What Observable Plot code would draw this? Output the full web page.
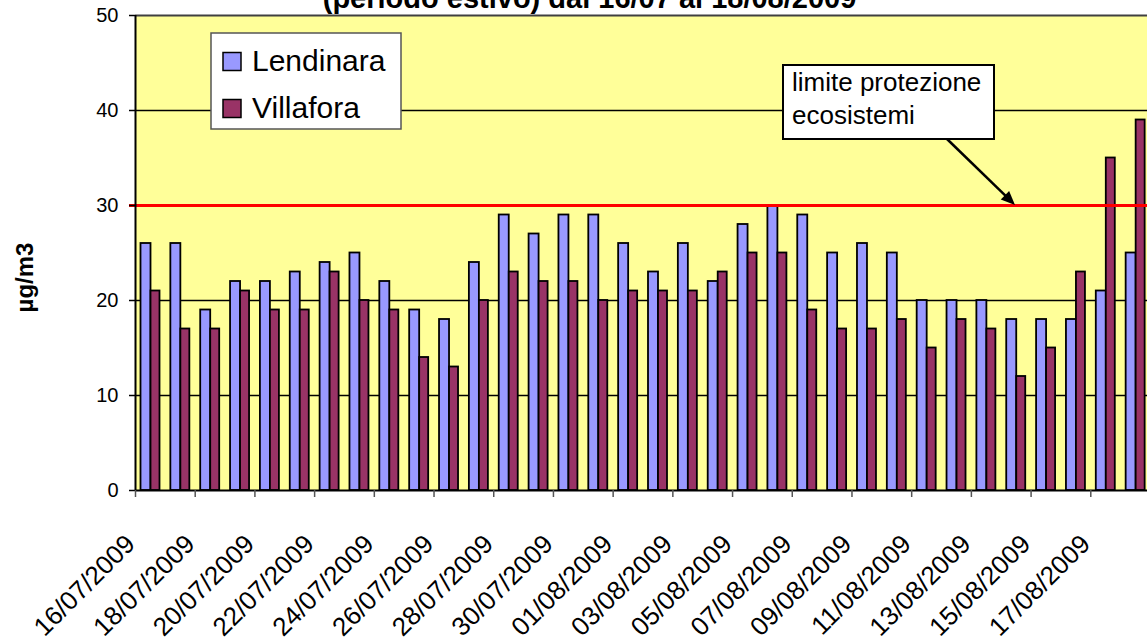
<!DOCTYPE html>
<html><head><meta charset="utf-8">
<script src="https://cdn.jsdelivr.net/npm/d3@7"></script>
<script src="https://cdn.jsdelivr.net/npm/@observablehq/plot@0.6"></script>
<style>
html,body{margin:0;padding:0;background:#fff;overflow:hidden;}
</style></head><body><div id="chart"></div>
<script>
const dates = ["16/07/2009","17/07/2009","18/07/2009","19/07/2009","20/07/2009","21/07/2009","22/07/2009","23/07/2009","24/07/2009","25/07/2009","26/07/2009","27/07/2009","28/07/2009","29/07/2009","30/07/2009","31/07/2009","01/08/2009","02/08/2009","03/08/2009","04/08/2009","05/08/2009","06/08/2009","07/08/2009","08/08/2009","09/08/2009","10/08/2009","11/08/2009","12/08/2009","13/08/2009","14/08/2009","15/08/2009","16/08/2009","17/08/2009","18/08/2009"];
const lendinara = [26,26,19,22,22,23,24,25,22,19,18,24,29,27,29,29,26,23,26,22,28,30,29,25,26,25,20,20,20,18,18,18,21,25];
const villafora = [21,17,17,21,19,19,23,20,19,14,13,20,23,22,22,20,21,21,21,23,25,25,19,17,17,18,15,18,17,12,15,23,35,39];
const tickLabels = ["16/07/2009","18/07/2009","20/07/2009","22/07/2009","24/07/2009","26/07/2009","28/07/2009","30/07/2009","01/08/2009","03/08/2009","05/08/2009","07/08/2009","09/08/2009","11/08/2009","13/08/2009","15/08/2009","17/08/2009"];
const yTicks = [0,10,20,30,40,50];
const gridValues = [10,20,40];
const limitValue = [30];
const series = ["Lendinara","Villafora"];
const colors = ["#9999FF","#993366"];
const titleLines = ["(periodo estivo) dal 16/07 al 18/08/2009"];
const yTitle = ["µg/m3"];
const noteLines = ["limite protezione","ecosistemi"];

const W = 1150, H = 643, ML = 135, MR = 0, MT = 15, MB = 153;
const bw = (W - ML - MR) / dates.length;
const table = dates.map((d,i)=>({date:d, Lendinara: lendinara[i], Villafora: villafora[i]}));
const FONT = "'Liberation Sans', Arial, sans-serif";

function overlay(index, scales, values, dims) {
  const g = d3.create("svg:g").attr("font-family", FONT).attr("text-anchor", "start");
  // legend
  const lg = g.append("g");
  lg.append("rect").attr("x",211).attr("y",33).attr("width",190).attr("height",96)
    .attr("fill","white").attr("stroke","#555").attr("stroke-width",1.5);
  series.forEach((s,i) => {
    const cy = 61.5 + i*47;
    lg.append("rect").attr("x",223).attr("y",cy-9).attr("width",18).attr("height",18)
      .attr("fill",colors[i]).attr("stroke","black").attr("stroke-width",1.5);
    lg.append("text").attr("x",252).attr("y",cy+9.5).attr("font-size",30).attr("fill","black")
      .attr("text-anchor","start").text(s);
  });
  // annotation
  const ag = g.append("g");
  const tipY = scales.y ? scales.y(limitValue[0]) : 205;
  const x0 = 947, y0 = 139, x1 = 1015, y1 = tipY;
  const dx = x1-x0, dy = y1-y0, len = Math.hypot(dx,dy), ux = dx/len, uy = dy/len;
  const hl = 14, hw = 6;
  ag.append("line").attr("x1",x0).attr("y1",y0).attr("x2",x1-ux*hl*0.8).attr("y2",y1-uy*hl*0.8)
    .attr("stroke","black").attr("stroke-width",2.5);
  const bx = x1-ux*hl, by = y1-uy*hl;
  ag.append("polygon").attr("points",[[x1,y1],[bx-uy*hw,by+ux*hw],[bx+uy*hw,by-ux*hw]].map(p=>p.join(",")).join(" "))
    .attr("fill","black");
  ag.append("rect").attr("x",783).attr("y",65).attr("width",211).attr("height",74)
    .attr("fill","white").attr("stroke","black").attr("stroke-width",2);
  noteLines.forEach((t,i)=>{
    ag.append("text").attr("x",792).attr("y",90.7 + i*33.3).attr("font-size",26).attr("fill","black")
      .attr("text-anchor","start").text(t);
  });
  return g.node();
}

const chart = Plot.plot({
  width: W, height: H,
  marginLeft: ML, marginRight: MR, marginTop: MT, marginBottom: MB,
  style: {fontFamily: FONT, maxWidth: "none", background: "white", color: "black"},
  x: {type: "band", domain: dates, paddingInner: 0, paddingOuter: 0, round: false, axis: null},
  y: {domain: [0,50], axis: null},
  marks: [
    Plot.frame({fill: "#FFFF99", stroke: "none"}),
    Plot.ruleY(gridValues, {stroke: "black", strokeWidth: 1.3}),
    Plot.ruleY([50], {stroke: "#404040", strokeWidth: 2}),
    Plot.barY(table, {x: "date", y: "Lendinara", fill: colors[0], stroke: "black", strokeWidth: 1.8, insetLeft: 5.5, insetRight: bw - 15.5}),
    Plot.barY(table, {x: "date", y: "Villafora", fill: colors[1], stroke: "black", strokeWidth: 1.8, insetLeft: 15.5, insetRight: bw - 24.5}),
    Plot.ruleY(limitValue, {stroke: "#FF0000", strokeWidth: 3, insetLeft: -6}),
    Plot.ruleY([0], {stroke: "black", strokeWidth: 2}),
    Plot.ruleX([dates[0]], {x: d => d, dx: -bw/2, stroke: "black", strokeWidth: 2}),
    Plot.axisY({ticks: yTicks, tickSize: 6, tickPadding: 11, fontSize: 20, label: null, stroke: "black", strokeWidth: 1.5, tickFormat: d => String(d)}),
    Plot.ruleX(tickLabels, {x: d => d, y1: 0, y2: 0, insetBottom: -7, dx: -bw/2, stroke: "#555", strokeWidth: 1.5}),
    Plot.text(tickLabels, {x: d => d, text: d => d, frameAnchor: "bottom", rotate: -45, textAnchor: "end", lineAnchor: "bottom", dx: -14, dy: 55, fontSize: 26, fill: "black"}),
    Plot.text(yTitle, {text: d => d, frameAnchor: "left", dx: -103, dy: 24.5, rotate: -90, textAnchor: "middle", lineAnchor: "bottom", fontSize: 24, fontWeight: "bold", fill: "black"}),
    Plot.text(titleLines, {text: d => d, frameAnchor: "top", dx: 589 - (ML + W - MR)/2, dy: -8, lineAnchor: "bottom", fontSize: 29, fontWeight: "bold", fill: "black"}),
    overlay
  ]
});
document.getElementById("chart").appendChild(chart);
</script>
</body></html>
